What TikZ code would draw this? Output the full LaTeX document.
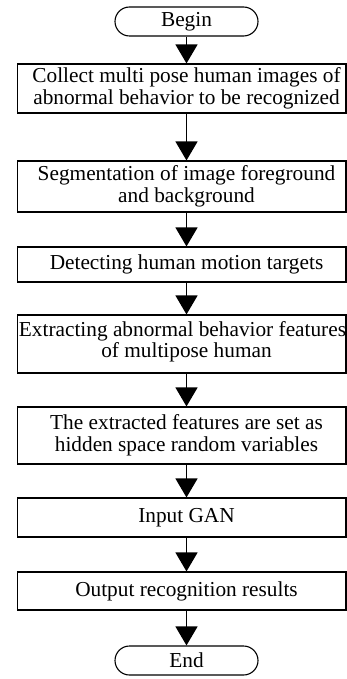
\documentclass[tikz,border=0pt]{standalone}
\usepackage{fontspec}
\setmainfont{Liberation Serif}
\usetikzlibrary{arrows.meta,shapes.misc}
\begin{document}
\begin{tikzpicture}[x=1pt,y=-1pt,
  term/.style={draw,line width=1.1pt,rounded rectangle,minimum width=143pt,minimum height=29pt,inner sep=0pt},
  box/.style={draw,line width=1.1pt,rectangle,minimum width=328.5pt,inner sep=0pt},
  txt/.style={align=center,inner sep=0pt,font=\fontsize{21.3}{21.5}\selectfont},
  arr/.style={line width=1.3pt,-{Triangle[width=22pt,length=19pt]},shorten >=0pt}
]
\useasboundingbox (0,0) rectangle (347,679);
\node[term] (begin) at (186.5,21.5) {};
\node[txt] (tbegin) at (186.5,21.5) {Begin};
\node[box,minimum height=49pt] (b1) at (181.75,88.5) {};
\node[txt] (t1) at (186.5,88.5) {Collect multi pose human images of\\abnormal behavior to be recognized};
\node[box,minimum height=51pt] (b2) at (181.75,186.5) {};
\node[txt] (t2) at (186.5,186.5) {Segmentation of image foreground\\and background};
\node[box,minimum height=35pt] (b3) at (181.75,264.5) {};
\node[txt] (t3) at (186.5,264.5) {Detecting human motion targets};
\node[box,minimum height=58pt] (b4) at (181.75,344) {};
\node[txt] (t4) at (182.5,342) {Extracting abnormal behavior features\\\hspace*{8pt}of multipose human};
\node[box,minimum height=57pt] (b5) at (181.75,435.5) {};
\node[txt] (t5) at (186.5,435.5) {The extracted features are set as\\hidden space random variables};
\node[box,minimum height=39pt] (b6) at (181.75,517.5) {};
\node[txt] (t6) at (186.5,517.5) {Input GAN};
\node[box,minimum height=38pt] (b7) at (181.75,591) {};
\node[txt] (t7) at (186.5,591) {Output recognition results};
\node[term] (end) at (186.5,660.5) {};
\node[txt] (tend) at (186.5,660.5) {End};
\draw[arr] (begin.south) -- (begin.south |- b1.north);
\draw[arr] (b1.south -| begin) -- (b2.north -| begin);
\draw[arr] (b2.south -| begin) -- (b3.north -| begin);
\draw[arr] (b3.south -| begin) -- (b4.north -| begin);
\draw[arr] (b4.south -| begin) -- (b5.north -| begin);
\draw[arr] (b5.south -| begin) -- (b6.north -| begin);
\draw[arr] (b6.south -| begin) -- (b7.north -| begin);
\draw[arr] (b7.south -| begin) -- (end.north);
\end{tikzpicture}
\end{document}
